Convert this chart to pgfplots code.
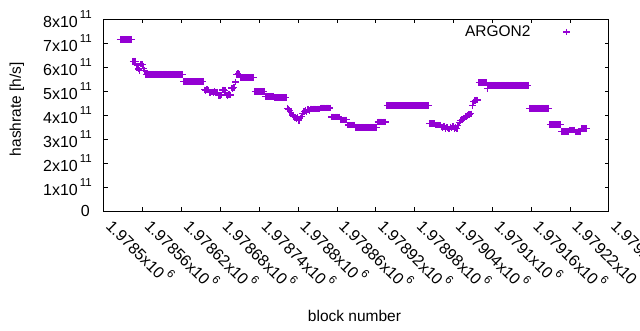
\documentclass[border=0pt]{standalone}
\usepackage{fontspec}
\setmainfont{Liberation Sans}
\usepackage{pgfplots}
\pgfplotsset{compat=1.18}
\definecolor{gviolet}{HTML}{9400D3}
\newcommand{\sci}[2]{#1x10\kern2pt\raisebox{9.5pt}{\fontsize{11.5}{11.5}\selectfont #2}}
\newcommand{\tfont}{\fontsize{16}{19}\selectfont}
\newcommand{\lfont}{\fontsize{15.5}{18}\selectfont}
\begin{document}
\begin{tikzpicture}[x=1pt,y=1pt]
\useasboundingbox (0,0) rectangle (640,330);
\begin{axis}[
  at={(104pt,119pt)}, anchor=south west, scale only axis,
  width=505pt, height=192pt,
  xmin=1978500, xmax=1979280, ymin=0, ymax=8,
  scaled ticks=false,
  xtick={1978500,1978560,1978620,1978680,1978740,1978800,1978860,1978920,1978980,1979040,1979100,1979160,1979220,1979280},
  xticklabels={\sci{1.9785}{6},\sci{1.97856}{6},\sci{1.97862}{6},\sci{1.97868}{6},\sci{1.97874}{6},\sci{1.9788}{6},\sci{1.97886}{6},\sci{1.97892}{6},\sci{1.97898}{6},\sci{1.97904}{6},\sci{1.9791}{6},\sci{1.97916}{6},\sci{1.97922}{6},\sci{1.97928}{6}},
  ytick={0,1,2,3,4,5,6,7,8},
  yticklabels={0\kern2pt,\sci{1}{11},\sci{2}{11},\sci{3}{11},\sci{4}{11},\sci{5}{11},\sci{6}{11},\sci{7}{11},\sci{8}{11}},
  tick align=inside, tick pos=both, major tick length=4pt,
  axis line style={line width=1pt, black},
  every tick/.style={black, line width=1pt},
  xticklabel style={inner sep=0pt, anchor=base west, xshift=1pt, yshift=-16pt, rotate=-45, font=\tfont},
  yticklabel style={inner sep=0pt, anchor=east, xshift=-12pt, font=\tfont},
  xlabel={block number}, ylabel={hashrate [h/s]},
  xlabel style={at={(axis description cs:0.496,-0.547)}, anchor=center, font=\lfont},
  ylabel style={at={(axis description cs:-0.1723,0.53)}, anchor=center, font=\lfont},
  legend style={draw=none, fill=none, at={(axis description cs:0.715,0.932)}, anchor=west, inner sep=0pt, outer sep=0pt, font=\lfont, nodes={inner sep=0pt}, column sep=0pt},
  legend plot pos=right,
  legend image code/.code={\path (0pt,0pt); \draw[#1] plot coordinates {(36pt,0pt)};},
]
\addplot[only marks, mark=+, mark size=3.3pt, gviolet, mark options={line width=1.3pt}] coordinates {
(1978525,7.15)(1978527,7.15)(1978529,7.15)(1978531,7.15)(1978533,7.15)(1978535,7.15)(1978537,7.15)(1978539,7.15)(1978541,7.15)(1978543,7.15)
(1978545,6.24)(1978547,6.24)(1978549,6.24)
(1978551,6.05)(1978553,5.92)(1978555,5.85)(1978557,6.12)(1978559,6.10)(1978561,5.95)(1978563,5.86)
(1978565,5.70)(1978567,5.70)(1978569,5.70)(1978571,5.70)(1978573,5.70)(1978575,5.70)(1978577,5.70)(1978579,5.70)(1978581,5.70)(1978583,5.70)
(1978585,5.70)(1978587,5.70)(1978589,5.70)(1978591,5.70)(1978593,5.70)(1978595,5.70)(1978597,5.70)(1978599,5.70)(1978601,5.70)(1978603,5.70)
(1978605,5.70)(1978607,5.70)(1978609,5.70)(1978611,5.70)(1978613,5.70)(1978615,5.70)(1978617,5.70)(1978619,5.70)(1978621,5.70)
(1978623,5.40)(1978625,5.40)(1978627,5.40)(1978629,5.40)(1978631,5.40)(1978633,5.40)(1978635,5.40)(1978637,5.40)
(1978639,5.40)(1978641,5.40)(1978643,5.40)(1978645,5.40)(1978647,5.40)(1978649,5.40)(1978651,5.40)(1978653,5.40)
(1978655,5.05)(1978657,5.02)(1978659,5.06)(1978661,5.04)(1978663,4.95)(1978665,4.93)(1978667,4.96)(1978669,4.95)(1978671,4.97)(1978673,4.94)(1978675,4.95)
(1978677,4.82)(1978679,4.80)(1978681,4.83)(1978683,5.04)(1978685,5.05)(1978687,5.02)(1978689,4.84)(1978691,4.82)(1978693,4.85)(1978695,4.83)
(1978697,5.12)(1978699,5.10)(1978701,5.14)(1978703,5.38)(1978705,5.70)(1978707,5.72)(1978709,5.68)
(1978711,5.57)(1978713,5.57)(1978715,5.57)(1978717,5.57)(1978719,5.57)(1978721,5.57)(1978723,5.57)(1978725,5.57)(1978727,5.57)(1978729,5.57)(1978731,5.57)
(1978733,4.98)(1978735,4.98)(1978737,4.98)(1978739,4.98)(1978741,4.98)(1978743,4.98)(1978745,4.98)(1978747,4.98)
(1978749,4.78)(1978751,4.78)(1978753,4.78)(1978755,4.78)(1978757,4.78)(1978759,4.78)(1978761,4.78)
(1978763,4.73)(1978765,4.73)(1978767,4.73)(1978769,4.73)(1978771,4.73)(1978773,4.73)(1978775,4.73)(1978777,4.73)(1978779,4.73)(1978781,4.73)
(1978783,4.28)(1978785,4.25)(1978787,4.18)(1978789,4.10)(1978791,4.00)(1978793,3.93)(1978795,3.90)(1978797,3.85)(1978799,3.92)
(1978801,3.78)(1978803,3.88)(1978805,3.95)(1978807,4.05)(1978809,4.15)(1978811,4.20)(1978813,4.12)(1978815,4.22)(1978817,4.18)
(1978819,4.25)(1978821,4.25)(1978823,4.25)(1978825,4.25)(1978827,4.25)(1978829,4.25)(1978831,4.25)(1978833,4.25)
(1978835,4.29)(1978837,4.29)(1978839,4.29)(1978841,4.29)(1978843,4.29)(1978845,4.29)(1978847,4.29)(1978849,4.29)
(1978851,3.92)(1978853,3.92)(1978855,3.92)(1978857,3.92)(1978859,3.92)(1978861,3.92)(1978863,3.92)
(1978865,3.80)(1978867,3.80)(1978869,3.80)(1978871,3.80)(1978873,3.80)(1978875,3.80)
(1978877,3.58)(1978879,3.58)(1978881,3.58)(1978883,3.58)(1978885,3.58)(1978887,3.58)
(1978889,3.49)(1978891,3.49)(1978893,3.49)(1978895,3.49)(1978897,3.49)(1978899,3.49)(1978901,3.49)(1978903,3.49)(1978905,3.49)
(1978907,3.49)(1978909,3.49)(1978911,3.49)(1978913,3.49)(1978915,3.49)(1978917,3.49)(1978919,3.49)(1978921,3.49)
(1978923,3.71)(1978925,3.71)(1978927,3.71)(1978929,3.71)(1978931,3.71)(1978933,3.71)(1978935,3.71)
(1978937,4.40)(1978939,4.40)(1978941,4.40)(1978943,4.40)(1978945,4.40)(1978947,4.40)(1978949,4.40)(1978951,4.40)(1978953,4.40)(1978955,4.40)
(1978957,4.40)(1978959,4.40)(1978961,4.40)(1978963,4.40)(1978965,4.40)(1978967,4.40)(1978969,4.40)(1978971,4.40)(1978973,4.40)(1978975,4.40)
(1978977,4.40)(1978979,4.40)(1978981,4.40)(1978983,4.40)(1978985,4.40)(1978987,4.40)(1978989,4.40)(1978991,4.40)(1978993,4.40)(1978995,4.40)
(1978997,4.40)(1978999,4.40)(1979001,4.40)
(1979003,3.65)(1979005,3.65)(1979007,3.65)(1979009,3.65)(1979011,3.65)
(1979013,3.58)(1979015,3.58)(1979017,3.58)(1979019,3.58)
(1979021,3.50)(1979023,3.47)(1979025,3.52)(1979027,3.44)(1979029,3.50)(1979031,3.48)(1979033,3.42)(1979035,3.50)(1979037,3.46)
(1979039,3.52)(1979041,3.43)(1979043,3.49)(1979045,3.45)(1979047,3.55)
(1979049,3.70)(1979051,3.76)(1979053,3.82)(1979055,3.85)(1979057,3.88)
(1979059,3.95)(1979061,3.98)(1979063,4.02)(1979065,4.02)(1979067,4.05)
(1979069,4.40)(1979071,4.55)(1979073,4.60)(1979075,4.63)(1979077,4.62)
(1979079,5.36)(1979081,5.36)(1979083,5.36)(1979085,5.36)(1979087,5.36)(1979089,5.36)(1979091,5.36)(1979092,5.10)
(1979093,5.24)(1979095,5.24)(1979097,5.24)(1979099,5.24)(1979101,5.24)(1979103,5.24)(1979105,5.24)(1979107,5.24)
(1979109,5.24)(1979111,5.24)(1979113,5.24)(1979115,5.24)(1979117,5.24)(1979119,5.24)(1979121,5.24)(1979123,5.24)
(1979125,5.24)(1979127,5.24)(1979129,5.24)(1979131,5.24)(1979133,5.24)(1979135,5.24)(1979137,5.24)(1979139,5.24)
(1979141,5.24)(1979143,5.24)(1979145,5.24)(1979147,5.24)(1979149,5.24)(1979151,5.24)(1979153,5.24)(1979155,5.24)
(1979157,4.28)(1979159,4.28)(1979161,4.28)(1979163,4.28)(1979165,4.28)(1979167,4.28)(1979169,4.28)(1979171,4.28)
(1979173,4.28)(1979175,4.28)(1979177,4.28)(1979179,4.28)(1979181,4.28)(1979183,4.28)(1979185,4.28)(1979187,4.28)
(1979189,3.61)(1979191,3.61)(1979193,3.61)(1979195,3.61)(1979197,3.61)(1979199,3.61)(1979201,3.61)(1979203,3.61)(1979205,3.61)
(1979207,3.32)(1979209,3.32)(1979211,3.32)(1979213,3.32)(1979215,3.32)(1979217,3.32)
(1979219,3.37)(1979221,3.37)(1979223,3.37)(1979225,3.37)(1979227,3.37)
(1979229,3.30)(1979231,3.30)(1979233,3.30)(1979235,3.30)
(1979237,3.44)(1979239,3.44)(1979241,3.44)(1979243,3.44)(1979245,3.44)
};
\addlegendentry{ARGON2}
\end{axis}
\end{tikzpicture}
\end{document}
